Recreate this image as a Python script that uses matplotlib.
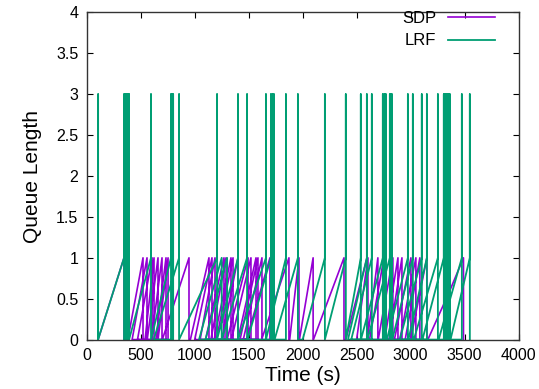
import matplotlib
matplotlib.use("Agg")
import matplotlib.pyplot as plt

plt.rcParams['font.family'] = ['Liberation Sans', 'DejaVu Sans']

# ramp start time, ramp top time, value reached at top (1 = plain drop, 3 = spike)
sdp_start = [105, 380, 420, 470, 540, 560, 600, 640, 660, 700, 960, 1000, 1050, 1100,
             1150, 1180, 1200, 1250, 1300, 1340, 1400, 1420, 1450, 1480, 1620, 1880,
             1970, 2100, 2400, 2500, 2600, 2620, 2700, 2760, 2800, 2850, 2900, 2950, 3000]
sdp_peak = [345, 521, 558, 605, 623, 660, 697, 734, 753, 947, 1132, 1160, 1188, 1271,
            1290, 1336, 1355, 1401, 1494, 1521, 1568, 1586, 1623, 1697, 1873, 1966,
            2097, 2383, 2596, 2605, 2697, 2753, 2836, 2883, 2920, 3003, 3049, 3086, 3151]
# last slow ramp with a kink
sdp_tail_t = [3160, 3364, 3490, 3490]
sdp_tail_q = [0, 0.6, 1, 0]

lrf_start = [105, 105, 355, 365, 375, 385, 392, 392, 595, 790, 800, 620, 855, 1040, 1100,
             1207, 1250, 1401, 1490, 1720, 1734, 1660, 1740, 2000, 2206, 2400, 2420, 2450,
             2540, 2757, 2771, 2600, 2818, 2827, 2780, 2830, 2900, 2980, 3030, 3110, 3320,
             3330, 3342, 3354, 3364, 3260, 3370]
lrf_peak = [105, 345, 355, 365, 375, 385, 392, 595, 780, 790, 800, 855, 1207, 1250, 1300,
            1401, 1485, 1660, 1706, 1720, 1734, 1845, 1956, 2206, 2400, 2539, 2595, 2641,
            2743, 2757, 2771, 2808, 2818, 2827, 2975, 3021, 3104, 3151, 3253, 3308, 3320,
            3330, 3342, 3354, 3364, 3475, 3549]
lrf_top = [3, 3, 3, 3, 3, 3, 3, 3, 3, 3, 3, 3, 3, 1, 1,
           3, 3, 3, 3, 3, 3, 3, 3, 3, 3, 3, 3, 3,
           3, 3, 3, 3, 3, 3, 3, 3, 3, 3, 3, 3, 3,
           3, 3, 3, 3, 3, 3]

xticks = [0, 500, 1000, 1500, 2000, 2500, 3000, 3500, 4000]
yticks = [0, 0.5, 1, 1.5, 2, 2.5, 3, 3.5, 4]
ylabels = ['0', '0.5', '1', '1.5', '2', '2.5', '3', '3.5', '4']


def build(starts, peaks, tops):
    t, q = [], []
    for s, p, top in zip(starts, peaks, tops):
        t += [s, p]
        q += [0, 1]
        if top > 1:
            t.append(p)
            q.append(top)
        t.append(p)
        q.append(0)
    return t, q


sdp_t, sdp_q = build(sdp_start, sdp_peak, [1] * len(sdp_peak))
sdp_t += sdp_tail_t
sdp_q += sdp_tail_q
lrf_t, lrf_q = build(lrf_start, lrf_peak, lrf_top)

fig = plt.figure(figsize=(5.39, 3.89), dpi=100)
ax = fig.add_axes([0.161, 0.127, 0.801, 0.841])

ax.plot(sdp_t, sdp_q, color='#9400D3', lw=1.2, label='SDP')
ax.plot(lrf_t, lrf_q, color='#009E73', lw=1.3, label='LRF')

ax.set_xlim(0, 4000)
ax.set_ylim(0, 4)
ax.set_xticks(xticks)
ax.set_xticklabels([str(v) for v in xticks])
ax.set_yticks(yticks)
ax.set_yticklabels(ylabels)
ax.tick_params(direction='in', top=True, right=True, labelsize=11.5, length=4, pad=6)
for sp in ax.spines.values():
    sp.set_linewidth(1.0)
    sp.set_color('#333333')

ax.set_xlabel('Time (s)', fontsize=15, labelpad=2)
ax.set_ylabel('Queue Length', fontsize=15, labelpad=10)

ax.legend(loc='upper right', frameon=False, markerfirst=False, fontsize=12,
          handlelength=2.8, handletextpad=0.7, borderaxespad=0.0,
          labelspacing=0.45, bbox_to_anchor=(0.96, 1.025))

fig.savefig('out.png', dpi=100)
